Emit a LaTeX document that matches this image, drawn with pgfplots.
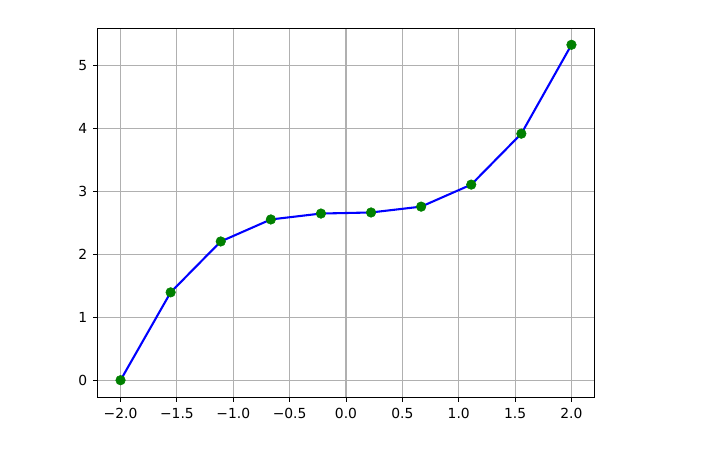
\documentclass[border=0pt]{standalone}
\usepackage{pgfplots}
\pgfplotsset{compat=1.18}
\usepackage{fontspec}
\setmainfont{DejaVu Sans}
\definecolor{mplgreen}{HTML}{008000}
\definecolor{mplblue}{HTML}{0000FF}
\definecolor{gridgray}{HTML}{B0B0B0}
\pgfplotstableread{
x y
-2.0000 0.000
-1.5556 1.397
-1.1111 2.206
-0.6667 2.556
-0.2222 2.650
0.2222 2.667
0.6667 2.760
1.1111 3.110
1.5556 3.920
2.0000 5.333
}\datatable
\begin{document}
\begin{tikzpicture}
\begin{axis}[name=ax,
  scale only axis, width=372pt, height=276.75pt,
  xmin=-2.2, xmax=2.2, ymin=-0.267, ymax=5.6,
  xtick={-2,-1.5,-1,-0.5,0,0.5,1,1.5,2},
  xticklabels={−2.0,−1.5,−1.0,−0.5,0.0,0.5,1.0,1.5,2.0},
  ytick={0,1,2,3,4,5},
  yticklabels={0,1,2,3,4,5},
  tick align=outside, tick pos=lower,
  major tick length=3.65pt,
  every tick/.style={black, line width=0.75pt},
  axis line style={line width=0.75pt},
  grid=major,
  major grid style={gridgray, line width=0.83pt},
  ticklabel style={font=\fontsize{10.4}{12}\selectfont},
  xticklabel style={yshift=-1pt},
  yticklabel style={xshift=-1pt},
]
\addplot[only marks, mark=*, mark size=3.6pt, mark options={draw=mplgreen, fill=mplgreen}] table[x=x,y=y] {\datatable};
\addplot[mplblue, line width=1.56pt, mark=none] table[x=x,y=y] {\datatable};
\end{axis}
\path[use as bounding box] ([xshift=-73.5pt,yshift=-49.5pt]ax.south west) rectangle ([xshift=84pt,yshift=21pt]ax.north east);
\end{tikzpicture}
\end{document}
